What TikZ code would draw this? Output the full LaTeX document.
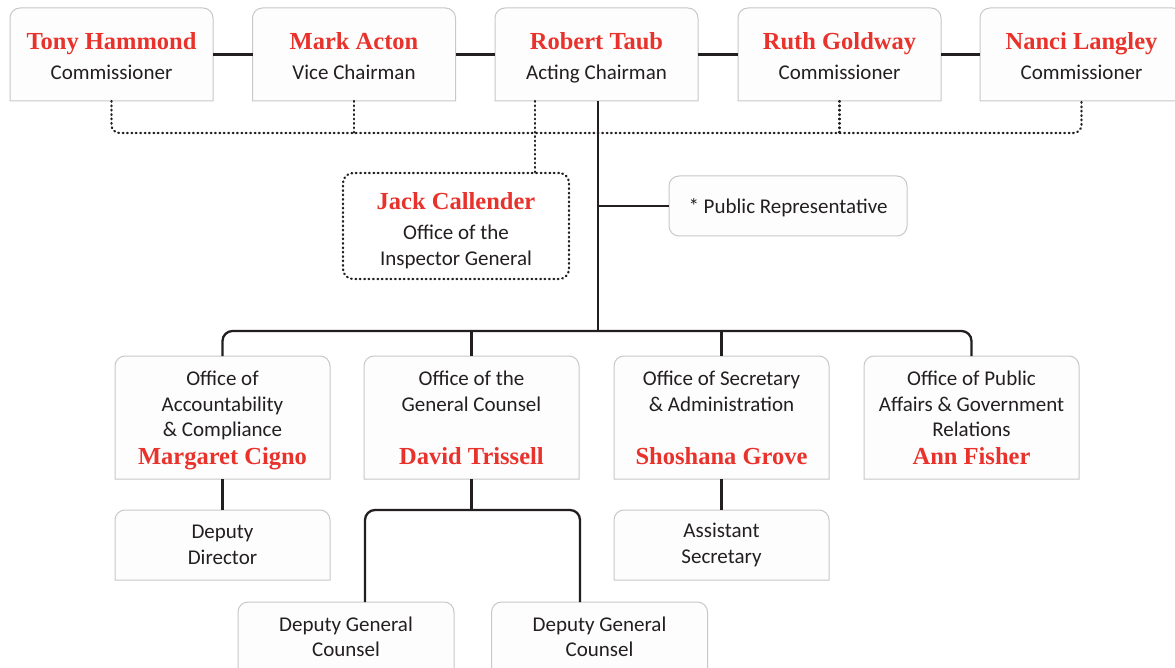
\documentclass[tikz,border=0pt]{standalone}
\usepackage{fontspec}
\setmainfont{Carlito}
\newfontfamily\namefont{Liberation Serif}
\usetikzlibrary{backgrounds}
\definecolor{namered}{RGB}{232,50,43}
\definecolor{inkgray}{RGB}{35,31,32}
\definecolor{boxgray}{RGB}{200,200,200}
\definecolor{boxfill}{RGB}{253,253,253}
\newcommand{\who}[1]{{\namefont\bfseries\fontsize{24.5}{28}\selectfont\color{namered}#1}}
\newcommand{\lift}[1]{\rule{0pt}{#1}}
\tikzset{
	orgbox/.style={inner sep=0pt, outer sep=0pt, align=center, text=inkgray, font=\fontsize{21}{25.5}\selectfont},
	topbox/.style={orgbox, minimum width=203pt, minimum height=93pt},
	midbox/.style={orgbox, minimum width=215pt, minimum height=123pt},
	lowbox/.style={orgbox, minimum width=215pt, minimum height=70pt},
	boxline/.style={draw=boxgray, fill=boxfill, line width=1pt},
	conn/.style={draw=inkgray, line width=2.3pt},
	dotline/.style={draw=inkgray, line width=2.2pt, line cap=round, dash pattern=on 0.8pt off 3.6pt}
}
\begin{document}
\begin{tikzpicture}[x=1pt,y=-1pt]
	\useasboundingbox (0,0) rectangle (1175,668);
	% commissioners
	\node[topbox] (tony) at (111.5,54.5) {\lift{20pt}\who{Tony Hammond}\\[5pt]Commissioner};
	\node[topbox] (mark) at (354,54.5) {\lift{20pt}\who{Mark Acton}\\[5pt]Vice Chairman};
	\node[topbox] (robert) at (596.5,54.5) {\lift{24pt}\who{Robert Taub}\\[5pt]Acting Chairman};
	\node[topbox] (ruth) at (839.5,54.5) {\lift{20pt}\who{Ruth Goldway}\\[5pt]Commissioner};
	\node[topbox] (nanci) at (1081.5,54.5) {\lift{20pt}\who{Nanci Langley}\\[5pt]Commissioner};
	% inspector general and public representative
	\node[orgbox, minimum width=226pt, minimum height=106pt, dotline, rounded corners=10pt] (jack) at (456,226)
		{\lift{26pt}\who{Jack Callender}\\[5pt]Office of the\\Inspector General};
	\node[orgbox, minimum width=238pt, minimum height=60pt, boxline, rounded corners=10pt] (pubrep) at (788,206)
		{\lift{19pt}* Public Representative};
	% offices
	\node[midbox] (acc) at (222.5,417.5) {\lift{20pt}Office of\\Accountability\\\& Compliance\\[2pt]\who{Margaret Cigno}};
	\node[midbox] (gc) at (471.5,417.5) {\lift{15pt}Office of the\\General Counsel\\\strut\\[2pt]\who{David Trissell}};
	\node[midbox] (sec) at (721.5,417.5) {\lift{15pt}Office of Secretary\\\& Administration\\\strut\\[2pt]\who{Shoshana Grove}};
	\node[midbox] (pub) at (971.5,417.5) {\lift{15pt}Office of Public\\Affairs \& Government\\Relations\\[2pt]\who{Ann Fisher}};
	% deputies
	\node[lowbox] (dd) at (222.5,545) {Deputy\\Director};
	\node[lowbox] (asst) at (721.5,545) {Assistant\\Secretary};
	\node[lowbox, minimum width=216pt] (dgc1) at (346,637) {Deputy General\\Counsel};
	\node[lowbox, minimum width=216pt] (dgc2) at (599.5,637) {Deputy General\\Counsel};
	% box outlines, rounded on top only
	\begin{scope}[on background layer]
		\fill[white] (0,0) rectangle (1175,668);
		\foreach \n in {tony,mark,robert,ruth,nanci,acc,gc,sec,pub,dd,asst,dgc1,dgc2}
			\filldraw[boxline] (\n.south west) -- ([yshift=-10pt]\n.north west) arc[start angle=180, end angle=90, radius=10pt]
				-- ([xshift=-10pt]\n.north east) arc[start angle=90, end angle=0, radius=10pt] -- (\n.south east) -- cycle;
	\end{scope}
	% solid lines
	\foreach \a/\b in {tony/mark,mark/robert,robert/ruth,ruth/nanci}
		\draw[conn] (\a) -- (\b);
	\coordinate (bus) at (598,331);
	\coordinate (fork) at (471.5,510);
	\draw[conn] (robert.south -| bus) -- (bus);
	\draw[conn] (bus |- pubrep.west) -- (pubrep.west);
	\draw[conn, rounded corners=10pt] (acc.north) |- (bus) -| (pub.north);
	\draw[conn] (gc.north) -- (gc.north |- bus);
	\draw[conn] (sec.north) -- (sec.north |- bus);
	\draw[conn] (acc) -- (dd);
	\draw[conn] (sec) -- (asst);
	\draw[conn] (gc) -- (fork);
	\draw[conn, rounded corners=10pt] ([xshift=19pt]dgc1.north) |- (fork) -| ([xshift=-19.5pt]dgc2.north);
	% dotted lines
	\draw[dotline, rounded corners=8pt] (tony.south) -- ++(0,32) -| (nanci.south);
	\draw[dotline] (mark.south) -- ++(0,32);
	\draw[dotline] (ruth.south) -- ++(0,32);
	\draw[dotline] ([xshift=-61.5pt]robert.south) -- ([xshift=79pt]jack.north);
\end{tikzpicture}
\end{document}
